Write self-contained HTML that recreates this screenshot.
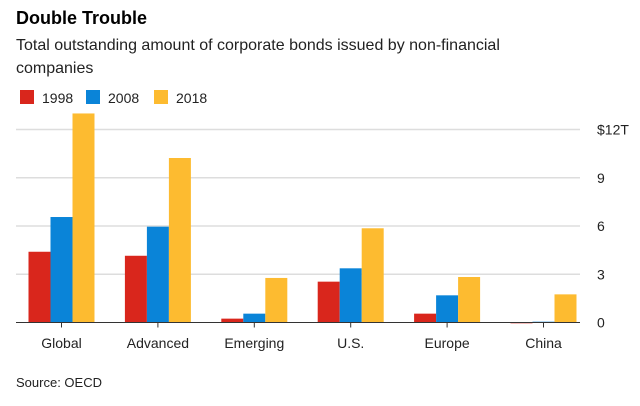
<!DOCTYPE html>
<html><head><meta charset="utf-8"><style>
body{margin:0;background:#fff;font-family:"Liberation Sans",sans-serif;}
svg{display:block}
</style></head><body>
<svg width="640" height="406">
<text x="16" y="24" font-size="18" font-weight="bold" fill="#000">Double Trouble</text>
<text x="16" y="50" font-size="16" fill="#222">Total outstanding amount of corporate bonds issued by non-financial</text>
<text x="16" y="73" font-size="16" fill="#222">companies</text>
<g>
<rect x="20" y="90" width="14" height="14" fill="#d9261c"/>
<text x="42" y="103" font-size="14" fill="#222">1998</text>
<rect x="86" y="90" width="14" height="14" fill="#0a84d8"/>
<text x="108" y="103" font-size="14" fill="#222">2008</text>
<rect x="154" y="90" width="14" height="14" fill="#fdbb30"/>
<text x="176" y="103" font-size="14" fill="#222">2018</text>
</g>
<g id="plot"></g>
<text x="16" y="387" font-size="13" fill="#222">Source: OECD</text>
</svg>
<script>
const categories=["Global","Advanced","Emerging","U.S.","Europe","China"];
const v1998=[4.4,4.15,0.24,2.54,0.55,-0.05];
const v2008=[6.56,5.96,0.55,3.37,1.69,0.05];
const v2018=[13.0,10.23,2.77,5.86,2.83,1.75];
const yTicks=[0,3,6,9,12];
const yTickLabels=["0","3","6","9","$12T"];
const seriesNames=["1998","2008","2018"];
const colors=["#d9261c","#0a84d8","#fdbb30"];
const NS="http://www.w3.org/2000/svg";
const g=document.getElementById('plot');
const y0=322.5,pxPer=16.08,xL=16,xR=580,bw=22;
const y=v=>y0-v*pxPer;
const cx=i=>61.5+96.4*i;
function mk(t,a){const e=document.createElementNS(NS,t);for(const k in a)e.setAttribute(k,a[k]);g.appendChild(e);return e;}
yTicks.forEach((t,i)=>{
 if(t!==0){const l=mk('line',{x1:xL,x2:xR,y1:y(t),y2:y(t),stroke:'#ddd','stroke-width':1.5});
 
 }
 const tx=mk('text',{x:597,y:y(t)+5,'font-size':14,fill:'#222'});tx.textContent=yTickLabels[i];
 
 
});
const series=[v1998,v2008,v2018];
categories.forEach((c,i)=>{
 series.forEach((s,j)=>{
  const v=s[i];const x=cx(i)-1.5*bw+bw*j;
  const r=mk('rect',{x:x,y:Math.min(y(v),y0),width:bw,height:Math.max(Math.abs(y(v)-y0),0.5),fill:colors[j]});
  
  
 });
 const tk=mk('line',{x1:cx(i),x2:cx(i),y1:y0,y2:y0+5,stroke:'#333'});
 
 
 const t=mk('text',{x:cx(i),y:348,'font-size':14,fill:'#222','text-anchor':'middle'});t.textContent=c;
 
 
});
const ax=mk('line',{x1:xL,x2:xR,y1:y0,y2:y0,stroke:'#333','stroke-width':1});


</script>
</body></html>
